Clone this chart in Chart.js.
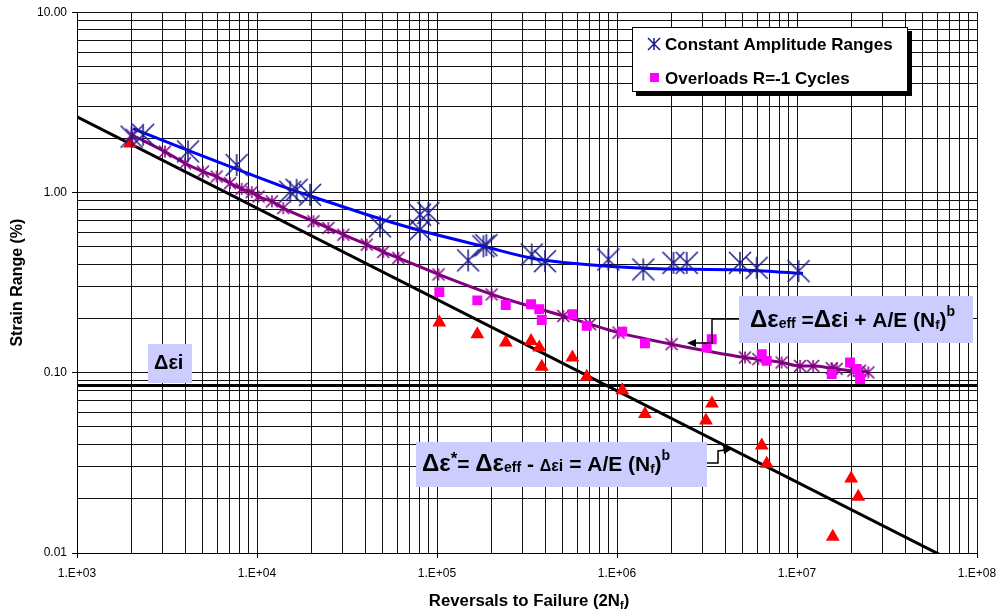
<!DOCTYPE html>
<html>
<head>
<meta charset="utf-8">
<script src="https://cdn.jsdelivr.net/npm/chart.js@4.4.1/dist/chart.umd.min.js"></script>
<style>
html, body { margin: 0; padding: 0; background: #fff; }
#wrap { width: 1005px; height: 615px; position: relative; }
</style>
</head>
<body>
<div id="wrap"><canvas id="strainChart"></canvas></div>
<script>
// Constant amplitude tests
const caRev = [2010, 2330, 4140, 7710, 15300, 16600, 19700, 48200, 80500, 80500, 89500, 149000, 181000, 188000, 336000, 398000, 895000, 1.40e6, 2.06e6, 2.44e6, 4.82e6, 5.97e6, 1.02e7];
const caStrain = [2.04, 2.09, 1.69, 1.42, 1.01, 1.035, 0.97, 0.649, 0.622, 0.753, 0.769, 0.42, 0.503, 0.51, 0.453, 0.416, 0.425, 0.374, 0.407, 0.407, 0.407, 0.382, 0.366];

// fitted curve through the constant amplitude data
const caFitRev = [2050, 4140, 7840, 15850, 20200, 48200, 83600, 181000, 337000, 647000, 1.40e6, 4.82e6, 1.08e7];
const caFitStrain = [2.26, 1.71, 1.34, 1.03, 0.95, 0.715, 0.609, 0.503, 0.432, 0.40, 0.38, 0.371, 0.356];

// effective strain curve (delta eps_eff)
const effRev = [2010, 3080, 3980, 5010, 5970, 7080, 8220, 9350, 10200, 12100, 14000, 20600, 24900, 30200, 40700, 50300, 61000, 102000, 201000, 503000, 708000, 1.02e6, 2.01e6, 5.14e6, 6.10e6, 8.22e6, 1.04e7, 1.23e7, 1.56e7, 1.66e7, 2.06e7, 2.24e7, 2.49e7];
const effStrain = [2.09, 1.685, 1.452, 1.306, 1.226, 1.126, 1.048, 1.004, 0.95, 0.892, 0.819, 0.692, 0.635, 0.583, 0.514, 0.468, 0.434, 0.351, 0.272, 0.2065, 0.186, 0.167, 0.144, 0.1215, 0.119, 0.114, 0.109, 0.109, 0.106, 0.105, 0.1026, 0.1026, 0.1004];

// overload tests, R=-1
const olRev = [1.03e5, 1.675e5, 2.41e5, 3.33e5, 3.70e5, 3.82e5, 5.65e5, 6.79e5, 1.07e6, 1.43e6, 3.15e6, 3.36e6, 6.37e6, 6.79e6, 1.56e7, 1.97e7, 2.15e7, 2.24e7];
const olStrain = [0.280, 0.252, 0.2375, 0.240, 0.225, 0.196, 0.211, 0.182, 0.169, 0.1455, 0.138, 0.1535, 0.1268, 0.1164, 0.0984, 0.114, 0.1048, 0.0923];

// delta eps* = eff - intrinsic
const dsRev = [1.97e3, 1.03e5, 1.675e5, 2.41e5, 3.33e5, 3.70e5, 3.82e5, 5.65e5, 6.79e5, 1.07e6, 1.43e6, 3.12e6, 3.37e6, 6.37e6, 6.79e6, 1.58e7, 2.0e7, 2.19e7];
const dsStrain = [1.87, 0.190, 0.1637, 0.147, 0.150, 0.138, 0.108, 0.1215, 0.095, 0.080, 0.0591, 0.0543, 0.0674, 0.0395, 0.0313, 0.0123, 0.0259, 0.0205];

// power law line and intrinsic strain level
const plRev = [1e3, 1e8];
const plStrain = [2.63, 0.0077];
const diRev = [1e3, 1e8];
const diStrain = [0.085, 0.085];

const FONT = '"Liberation Sans", Arial, Helvetica, sans-serif';
Chart.defaults.font.family = FONT;

function pts(xs, ys) { return xs.map((x, i) => ({ x: x, y: ys[i] })); }

function isDecade(v) {
    const l = Math.log10(v);
    return Math.abs(l - Math.round(l)) < 1e-9;
}

function logTicks(lo, hi) {
    const t = [];
    for (let e = lo; e < hi; e++) {
        for (let m = 1; m < 10; m++) t.push({ value: m * Math.pow(10, e) });
    }
    t.push({ value: Math.pow(10, hi) });
    return t;
}

// excel style asterisk marker (X plus vertical bar)
function starImg(size, color, lw) {
    const c = document.createElement('canvas');
    c.width = c.height = size + 4;
    const g = c.getContext('2d');
    const m = (size + 4) / 2, h = size / 2;
    g.strokeStyle = color;
    g.lineWidth = lw;
    g.beginPath();
    g.moveTo(m - h, m - h); g.lineTo(m + h, m + h);
    g.moveTo(m + h, m - h); g.lineTo(m - h, m + h);
    g.moveTo(m, m - h); g.lineTo(m, m + h);
    g.stroke();
    return c;
}
const navyStar = starImg(22, '#1a1a8c', 1.5);
const navyStarSmall = starImg(12, '#1a1a8c', 1.5);
const purpleStar = starImg(12, '#800080', 1.5);

function rich(ctx, x, y, parts) {
    for (const p of parts) {
        ctx.font = 'bold ' + p.s + 'px ' + FONT;
        ctx.fillText(p.t, x, y + (p.dy || 0));
        x += ctx.measureText(p.t).width;
    }
    return x;
}
function richWidth(ctx, parts) {
    let w = 0;
    for (const p of parts) {
        ctx.font = 'bold ' + p.s + 'px ' + FONT;
        w += ctx.measureText(p.t).width;
    }
    return w;
}

const overlay = {
    id: 'overlay',
    afterDraw(chart) {
        const ctx = chart.ctx;
        ctx.save();
        ctx.textBaseline = 'alphabetic';
        ctx.fillStyle = '#000';

        // intrinsic strain label
        ctx.fillStyle = '#ccccff';
        ctx.fillRect(148, 344, 44, 39);
        ctx.fillStyle = '#000';
        rich(ctx, 154, 369, [{ t: 'Δεi', s: 20 }]);

        // eff box + connector
        ctx.fillStyle = '#ccccff';
        ctx.fillRect(739, 296, 234, 47);
        ctx.fillStyle = '#000';
        rich(ctx, 750, 327, [
            { t: 'Δε', s: 24 }, { t: 'eff', s: 14, dy: 1 }, { t: ' =', s: 21 },
            { t: 'Δε', s: 24 }, { t: 'i + A/E (N', s: 21 }, { t: 'f', s: 13, dy: 2 },
            { t: ')', s: 21 }, { t: 'b', s: 14, dy: -11 }
        ]);
        ctx.strokeStyle = '#000';
        ctx.lineWidth = 1.5;
        ctx.beginPath();
        ctx.moveTo(739, 319); ctx.lineTo(712, 319); ctx.lineTo(712, 343); ctx.lineTo(694, 343);
        ctx.stroke();
        ctx.beginPath();
        ctx.moveTo(687, 343); ctx.lineTo(696, 339); ctx.lineTo(696, 347); ctx.closePath();
        ctx.fill();

        // delta eps* box + connector
        ctx.fillStyle = '#ccccff';
        ctx.fillRect(416, 442, 291, 45);
        ctx.fillStyle = '#000';
        rich(ctx, 422, 471, [
            { t: 'Δε', s: 24 }, { t: '*', s: 17, dy: -7 }, { t: '= ', s: 21 },
            { t: 'Δε', s: 24 }, { t: 'eff', s: 14, dy: 1 }, { t: ' - ', s: 21 },
            { t: 'Δεi', s: 16 }, { t: ' = A/E (N', s: 21 }, { t: 'f', s: 13, dy: 2 },
            { t: ')', s: 21 }, { t: 'b', s: 14, dy: -11 }
        ]);
        ctx.beginPath();
        ctx.moveTo(707, 463); ctx.lineTo(718, 463); ctx.lineTo(718, 451); ctx.lineTo(725, 450);
        ctx.stroke();
        ctx.beginPath();
        ctx.moveTo(732, 449); ctx.lineTo(723, 446); ctx.lineTo(724, 454); ctx.closePath();
        ctx.fill();

        // legend
        ctx.fillStyle = '#000';
        ctx.fillRect(636, 31, 276, 65);
        ctx.fillStyle = '#fff';
        ctx.fillRect(632, 27, 276, 65);
        ctx.strokeStyle = '#000';
        ctx.lineWidth = 1;
        ctx.strokeRect(632.5, 27.5, 275, 64);
        ctx.drawImage(navyStarSmall, 654 - navyStarSmall.width / 2, 44 - navyStarSmall.height / 2);
        ctx.fillStyle = '#ff00ff';
        ctx.fillRect(650, 73, 9, 9);
        ctx.fillStyle = '#000';
        ctx.font = 'bold 17px ' + FONT;
        ctx.fillText('Constant Amplitude Ranges', 665, 50);
        ctx.fillText('Overloads R=-1 Cycles', 665, 84);

        // x axis title with subscript
        const xt = [{ t: 'Reversals to Failure (2N', s: 16.8 }, { t: 'f', s: 11, dy: 3 }, { t: ')', s: 16.8 }];
        const cx = (chart.chartArea.left + chart.chartArea.right) / 2;
        rich(ctx, cx - richWidth(ctx, xt) / 2 + 2, 606, xt);
        ctx.restore();
    }
};

const gridCfg = {
    color: '#111',
    lineWidth: 1,
    tickLength: 5,
    tickColor: (c) => (c.tick && isDecade(c.tick.value)) ? '#000' : 'rgba(0,0,0,0)'
};

new Chart(document.getElementById('strainChart'), {
    type: 'scatter',
    data: {
        datasets: [
            {
                label: 'Constant Amplitude Ranges',
                data: pts(caRev, caStrain),
                pointStyle: navyStar,
                pointRadius: 8,
                showLine: false,
                order: 1
            },
            {
                label: 'Δε*',
                data: pts(dsRev, dsStrain),
                pointStyle: 'triangle',
                pointRadius: 8,
                backgroundColor: '#ff0000',
                borderColor: '#ff0000',
                borderWidth: 0,
                showLine: false,
                order: 2
            },
            {
                label: 'Overloads R=-1 Cycles',
                data: pts(olRev, olStrain),
                pointStyle: 'rect',
                pointRadius: 7,
                backgroundColor: '#ff00ff',
                borderColor: '#ff00ff',
                borderWidth: 0,
                showLine: false,
                order: 3
            },
            {
                label: 'eff fit',
                data: pts(effRev, effStrain),
                pointStyle: purpleStar,
                pointRadius: 6,
                showLine: true,
                borderColor: '#800080',
                borderWidth: 3,
                cubicInterpolationMode: 'monotone',
                order: 4
            },
            {
                label: 'CA fit',
                data: pts(caFitRev, caFitStrain),
                pointRadius: 0,
                showLine: true,
                borderColor: '#0000ff',
                borderWidth: 3,
                cubicInterpolationMode: 'monotone',
                order: 5
            },
            {
                label: 'power law',
                data: pts(plRev, plStrain),
                pointRadius: 0,
                showLine: true,
                borderColor: '#000',
                borderWidth: 3,
                order: 6
            },
            {
                label: 'intrinsic',
                data: pts(diRev, diStrain),
                pointRadius: 0,
                showLine: true,
                borderColor: '#000',
                borderWidth: 3,
                order: 7
            }
        ]
    },
    options: {
        responsive: true,
        maintainAspectRatio: false,
        animation: false,
        layout: { padding: { top: 10, right: 28, left: 0, bottom: 0 } },
        plugins: {
            legend: { display: false },
            tooltip: { enabled: false }
        },
        scales: {
            x: {
                type: 'logarithmic',
                min: 1e3,
                max: 1e8,
                afterBuildTicks: (s) => { s.ticks = logTicks(3, 8); },
                afterFit: (s) => { s.height = 62; },
                ticks: {
                    autoSkip: false,
                    maxRotation: 0,
                    padding: 8,
                    color: '#000',
                    font: { size: 12 },
                    callback: (v) => isDecade(v) ? '1.E+0' + Math.round(Math.log10(v)) : ''
                },
                grid: gridCfg,
                border: { color: '#000', width: 1 }
            },
            y: {
                type: 'logarithmic',
                min: 0.01,
                max: 10,
                afterBuildTicks: (s) => { s.ticks = logTicks(-2, 1); },
                afterFit: (s) => { s.width = 77; },
                ticks: {
                    autoSkip: false,
                    padding: 5,
                    color: '#000',
                    font: { size: 12 },
                    callback: (v) => isDecade(v) ? v.toFixed(2) : ''
                },
                title: {
                    display: true,
                    text: 'Strain Range (%)',
                    color: '#000',
                    font: { size: 16, weight: 'bold' },
                    padding: { top: 8, bottom: 0 }
                },
                grid: gridCfg,
                border: { color: '#000', width: 1 }
            }
        }
    },
    plugins: [overlay]
});
</script>
</body>
</html>
